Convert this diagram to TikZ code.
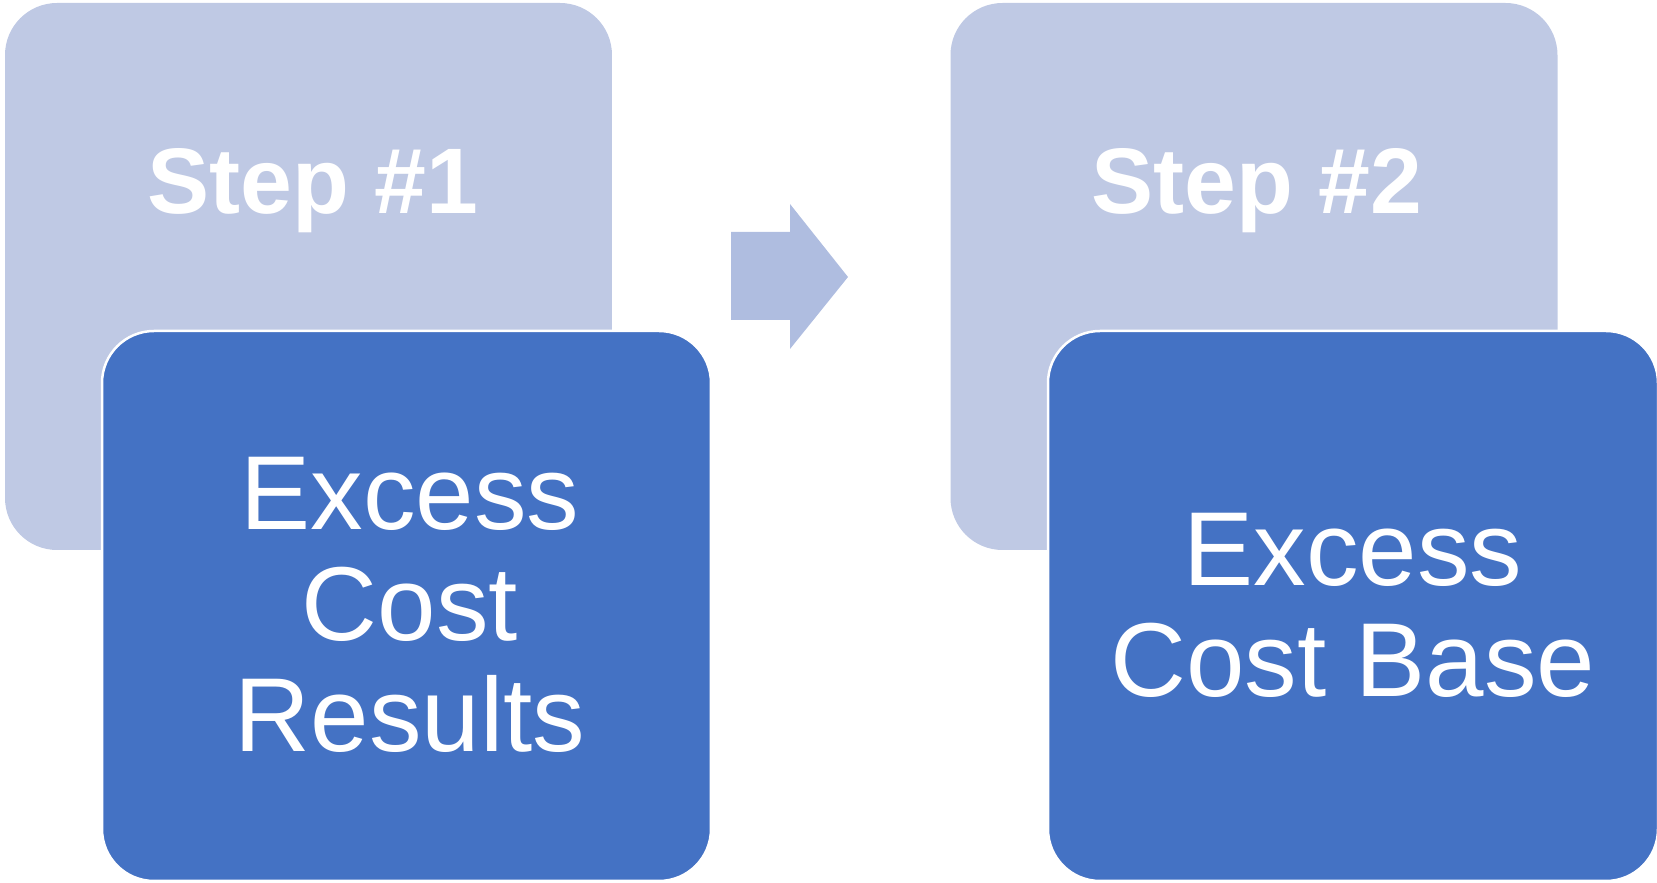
\documentclass[tikz,border=0pt]{standalone}
\usepackage{fontspec}
\setmainfont{Liberation Sans}
\usetikzlibrary{positioning,calc}
\definecolor{stepblue}{HTML}{BFC9E4}
\definecolor{arrowblue}{HTML}{AFBDE0}
\definecolor{resultblue}{HTML}{4472C4}

\begin{document}
\begin{tikzpicture} [x=0.1mm, y=-0.1mm, every node/.style = {inner sep=0pt, outer sep=0pt, align=center, text=white}]
        \tikzstyle{stepbox}=[fill=stepblue, rounded corners=5.2mm, minimum width=60.7mm, minimum height=54.7mm]
        \tikzstyle{resultbox}=[fill=resultblue, draw=white, line width=0.25mm, rounded corners=5.2mm, minimum width=60.9mm, minimum height=55mm]
        \tikzstyle{steplabel}=[font=\fontsize{26.5}{30}\selectfont\bfseries]
        \tikzstyle{resultlabel}=[font=\fontsize{29.9}{31.6}\selectfont]
        \useasboundingbox (0,0) rectangle (1657,883);
        % step 1
        \node (step1) [stepbox] at (308.5,276.5) {};
        \node (step1text) [steplabel, anchor=base] at (313,214) {Step \#1};
        \node (result1) [resultbox] at (406.5,606) {};
        \node (result1text) [resultlabel] at (410,605) {Excess\\Cost\\Results};
        % arrow between the steps
        \fill[arrowblue] (731,232) -- (790,232) -- (790,204) -- (848,277)
                -- (790,349) -- (790,320) -- (731,320) -- cycle;
        % step 2
        \node (step2) [stepbox] at (1254,276.5) {};
        \node (step2text) [steplabel, anchor=base] at (1257,214) {Step \#2};
        \node (result2) [resultbox, minimum width=61mm] at (1353,606) {};
        \node (result2text) [resultlabel] at (1353,605) {Excess\\Cost Base};
    \end{tikzpicture}
\end{document}
